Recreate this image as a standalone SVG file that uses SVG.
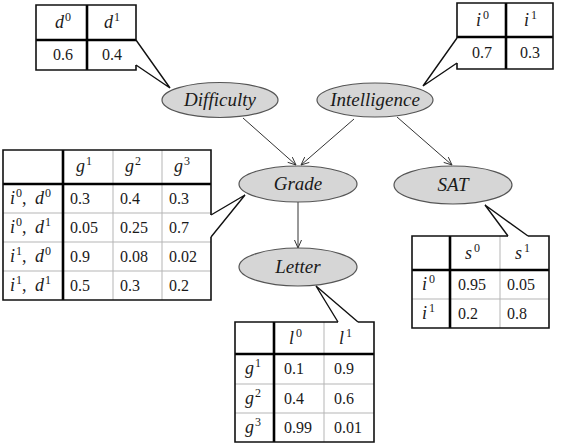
<svg xmlns="http://www.w3.org/2000/svg" width="561" height="445" viewBox="0 0 561 445">
<rect width="561" height="445" fill="#fff"/>

<g id="connectors" fill="none" stroke="#333" stroke-width="1">
<line x1="243" y1="118" x2="296" y2="165"/>
<path d="M287.7,162.3 L296,165 L292.3,157.1"/>
<line x1="354" y1="119" x2="301" y2="165"/>
<path d="M304.7,157.1 L301,165 L309.3,162.4"/>
<line x1="397" y1="117" x2="452" y2="165"/>
<path d="M443.7,162.4 L452,165 L448.3,157.1"/>
<line x1="298" y1="202" x2="298" y2="248"/>
<path d="M294.5,240 L298,248 L301.5,240"/>
</g>

<g id="difficulty">
<ellipse cx="220" cy="100" rx="58" ry="17.5" fill="#d6d6d6" stroke="#555" stroke-width="1.2"/>
<text x="220" y="106" font-family="Liberation Serif" font-size="19" font-style="italic" text-anchor="middle" fill="#1a1a1a">Difficulty</text>
</g>
<g id="intelligence">
<ellipse cx="375" cy="100" rx="58" ry="17" fill="#d6d6d6" stroke="#555" stroke-width="1.2"/>
<text x="375" y="106" font-family="Liberation Serif" font-size="19" font-style="italic" text-anchor="middle" fill="#1a1a1a">Intelligence</text>
</g>
<g id="grade">
<ellipse cx="298" cy="184" rx="59" ry="18" fill="#d6d6d6" stroke="#555" stroke-width="1.2"/>
<text x="298" y="190" font-family="Liberation Serif" font-size="19" font-style="italic" text-anchor="middle" fill="#1a1a1a">Grade</text>
</g>
<g id="sat">
<ellipse cx="453" cy="185" rx="59" ry="19" fill="#d6d6d6" stroke="#555" stroke-width="1.2"/>
<text x="453" y="191" font-family="Liberation Serif" font-size="19" font-style="italic" text-anchor="middle" fill="#1a1a1a">SAT</text>
</g>
<g id="letter">
<ellipse cx="298" cy="267" rx="59" ry="19" fill="#d6d6d6" stroke="#555" stroke-width="1.2"/>
<text x="298" y="273" font-family="Liberation Serif" font-size="19" font-style="italic" text-anchor="middle" fill="#1a1a1a">Letter</text>
</g>

<g id="cpd-difficulty">
<g stroke="#000" stroke-width="2.6">
<line x1="87" y1="5" x2="87" y2="70"/>
<line x1="36" y1="40" x2="136" y2="40"/>
</g>
<path d="M136,40 L136,5 L36,5 L36,70 L136,70 L136,65" fill="none" stroke="#111" stroke-width="1.6"/>
<path d="M136,40 L170,88 L136,65" fill="none" stroke="#111" stroke-width="1.4"/>
<g font-family="Liberation Serif" fill="#1a1a1a">
<text x="55" y="28" font-size="18" font-style="italic">d<tspan font-size="12" font-style="normal" dx="1" dy="-7">0</tspan></text>
<text x="104" y="28" font-size="18" font-style="italic">d<tspan font-size="12" font-style="normal" dx="1" dy="-7">1</tspan></text>
<text x="63" y="60" font-size="16" text-anchor="middle">0.6</text>
<text x="112" y="60" font-size="16" text-anchor="middle">0.4</text>
</g>
</g>

<g id="cpd-intelligence">
<g stroke="#000" stroke-width="2.6">
<line x1="506" y1="3" x2="506" y2="69"/>
<line x1="457" y1="37" x2="553" y2="37"/>
</g>
<path d="M457,38 L457,3 L553,3 L553,69 L457,69 L457,63" fill="none" stroke="#111" stroke-width="1.6"/>
<path d="M457,38 L423,86 L457,63" fill="none" stroke="#111" stroke-width="1.4"/>
<g font-family="Liberation Serif" fill="#1a1a1a">
<text x="476" y="26" font-size="18" font-style="italic">i<tspan font-size="12" font-style="normal" dx="2" dy="-7">0</tspan></text>
<text x="524" y="26" font-size="18" font-style="italic">i<tspan font-size="12" font-style="normal" dx="2" dy="-7">1</tspan></text>
<text x="482" y="58" font-size="16" text-anchor="middle">0.7</text>
<text x="530" y="58" font-size="16" text-anchor="middle">0.3</text>
</g>
</g>

<g id="cpd-grade">
<g stroke="#b5b5b5" stroke-width="1">
<line x1="113" y1="150" x2="113" y2="300"/>
<line x1="162" y1="150" x2="162" y2="300"/>
<line x1="3" y1="213" x2="211" y2="213"/>
<line x1="3" y1="242" x2="211" y2="242"/>
<line x1="3" y1="271" x2="211" y2="271"/>
</g>
<g stroke="#000" stroke-width="2.6">
<line x1="63" y1="150" x2="63" y2="300"/>
<line x1="3" y1="184" x2="211" y2="184"/>
</g>
<path d="M211,215 L211,150 L3,150 L3,300 L211,300 L211,237" fill="none" stroke="#111" stroke-width="1.6"/>
<path d="M211,215 L245,195 L211,237" fill="none" stroke="#111" stroke-width="1.4"/>
<g font-family="Liberation Serif" fill="#1a1a1a" font-size="18">
<text x="76" y="172" font-style="italic">g<tspan font-size="12" font-style="normal" dx="1" dy="-7">1</tspan></text>
<text x="125" y="172" font-style="italic">g<tspan font-size="12" font-style="normal" dx="1" dy="-7">2</tspan></text>
<text x="174" y="172" font-style="italic">g<tspan font-size="12" font-style="normal" dx="1" dy="-7">3</tspan></text>
<text x="10" y="204"><tspan font-style="italic">i</tspan><tspan font-size="12" dx="1" dy="-7">0</tspan><tspan dy="7">,</tspan><tspan font-style="italic" x="35">d</tspan><tspan font-size="12" dx="1" dy="-7">0</tspan></text>
<text x="10" y="233"><tspan font-style="italic">i</tspan><tspan font-size="12" dx="1" dy="-7">0</tspan><tspan dy="7">,</tspan><tspan font-style="italic" x="35">d</tspan><tspan font-size="12" dx="1" dy="-7">1</tspan></text>
<text x="10" y="262"><tspan font-style="italic">i</tspan><tspan font-size="12" dx="1" dy="-7">1</tspan><tspan dy="7">,</tspan><tspan font-style="italic" x="35">d</tspan><tspan font-size="12" dx="1" dy="-7">0</tspan></text>
<text x="10" y="291"><tspan font-style="italic">i</tspan><tspan font-size="12" dx="1" dy="-7">1</tspan><tspan dy="7">,</tspan><tspan font-style="italic" x="35">d</tspan><tspan font-size="12" dx="1" dy="-7">1</tspan></text>
</g>
<g font-family="Liberation Serif" fill="#1a1a1a" font-size="16">
<text x="70" y="204">0.3</text>
<text x="120" y="204">0.4</text>
<text x="169" y="204">0.3</text>
<text x="70" y="233">0.05</text>
<text x="120" y="233">0.25</text>
<text x="169" y="233">0.7</text>
<text x="70" y="262">0.9</text>
<text x="120" y="262">0.08</text>
<text x="169" y="262">0.02</text>
<text x="70" y="291">0.5</text>
<text x="120" y="291">0.3</text>
<text x="169" y="291">0.2</text>
</g>
</g>

<g id="cpd-sat">
<g stroke="#b5b5b5" stroke-width="1">
<line x1="500" y1="236" x2="500" y2="328"/>
<line x1="412" y1="299" x2="549" y2="299"/>
</g>
<g stroke="#000" stroke-width="2.6">
<line x1="450" y1="236" x2="450" y2="328"/>
<line x1="412" y1="270" x2="549" y2="270"/>
</g>
<path d="M508,236 L412,236 L412,328 L549,328 L549,236 L528,236" fill="none" stroke="#111" stroke-width="1.6"/>
<path d="M508,236 L485,205 L528,236" fill="none" stroke="#111" stroke-width="1.4"/>
<g font-family="Liberation Serif" fill="#1a1a1a" font-size="18" font-style="italic">
<text x="465" y="259">s<tspan font-size="12" font-style="normal" dx="2" dy="-7">0</tspan></text>
<text x="515" y="259">s<tspan font-size="12" font-style="normal" dx="2" dy="-7">1</tspan></text>
<text x="422" y="290">i<tspan font-size="12" font-style="normal" dx="2" dy="-7">0</tspan></text>
<text x="422" y="319">i<tspan font-size="12" font-style="normal" dx="2" dy="-7">1</tspan></text>
</g>
<g font-family="Liberation Serif" fill="#1a1a1a" font-size="16">
<text x="458" y="290">0.95</text>
<text x="507" y="290">0.05</text>
<text x="458" y="319">0.2</text>
<text x="507" y="319">0.8</text>
</g>
</g>

<g id="cpd-letter">
<g stroke="#b5b5b5" stroke-width="1">
<line x1="324" y1="322" x2="324" y2="442"/>
<line x1="235" y1="384" x2="374" y2="384"/>
<line x1="235" y1="413" x2="374" y2="413"/>
</g>
<g stroke="#000" stroke-width="2.6">
<line x1="274" y1="322" x2="274" y2="442"/>
<line x1="235" y1="354" x2="374" y2="354"/>
</g>
<path d="M338,322 L235,322 L235,442 L374,442 L374,322 L358,322" fill="none" stroke="#111" stroke-width="1.6"/>
<path d="M338,322 L316,286 L358,322" fill="none" stroke="#111" stroke-width="1.4"/>
<g font-family="Liberation Serif" fill="#1a1a1a" font-size="18" font-style="italic">
<text x="289" y="344">l<tspan font-size="12" font-style="normal" dx="2" dy="-7">0</tspan></text>
<text x="339" y="344">l<tspan font-size="12" font-style="normal" dx="2" dy="-7">1</tspan></text>
<text x="245" y="374">g<tspan font-size="12" font-style="normal" dx="1" dy="-7">1</tspan></text>
<text x="245" y="404">g<tspan font-size="12" font-style="normal" dx="1" dy="-7">2</tspan></text>
<text x="245" y="433">g<tspan font-size="12" font-style="normal" dx="1" dy="-7">3</tspan></text>
</g>
<g font-family="Liberation Serif" fill="#1a1a1a" font-size="16">
<text x="284" y="374">0.1</text>
<text x="334" y="374">0.9</text>
<text x="284" y="404">0.4</text>
<text x="334" y="404">0.6</text>
<text x="284" y="433">0.99</text>
<text x="334" y="433">0.01</text>
</g>
</g>
</svg>
